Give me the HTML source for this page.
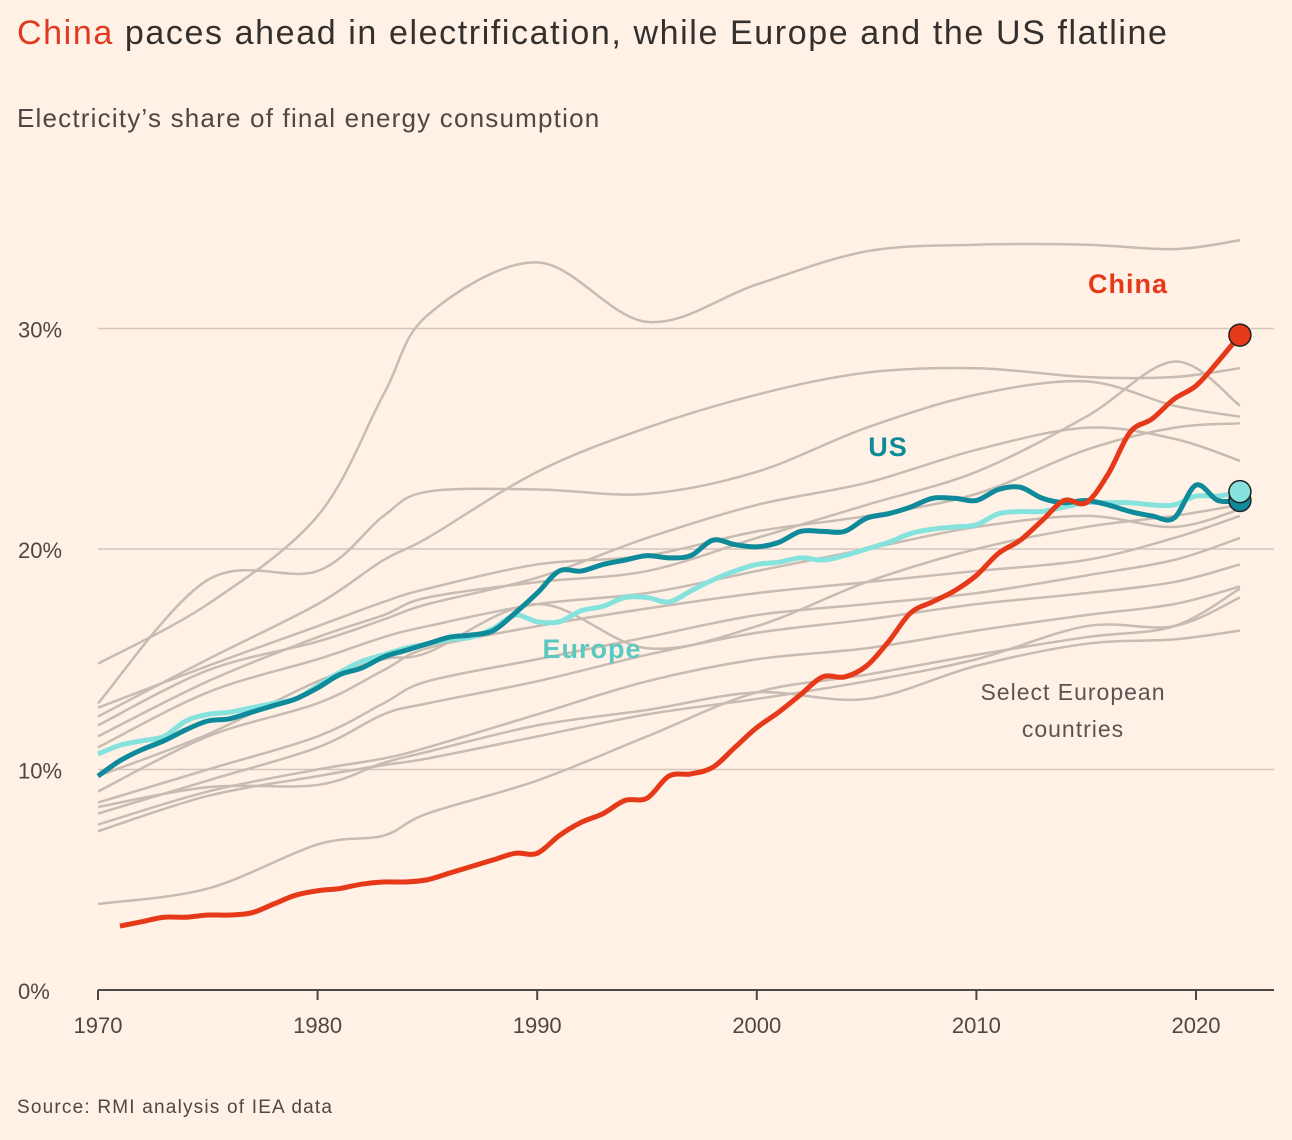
<!DOCTYPE html>
<html><head><meta charset="utf-8">
<style>
html,body{margin:0;padding:0;background:#fff1e5;}
body{width:1292px;height:1140px;position:relative;overflow:hidden;font-family:"Liberation Sans",sans-serif;}
.t{position:absolute;left:17px;top:14px;font-size:34px;color:#33302e;white-space:nowrap;letter-spacing:1.6px;}
.s{position:absolute;left:17px;top:103px;font-size:26px;color:#4d4845;letter-spacing:1.2px;}
.src{position:absolute;left:17px;top:1097px;font-size:19px;color:#4d4845;letter-spacing:1.2px;}
svg{position:absolute;left:0;top:0;}
</style></head><body>
<div class="t"><span style="color:#e03a1e">China</span> paces ahead in electrification, while Europe and the US flatline</div>
<div class="s">Electricity’s share of final energy consumption</div>
<div class="src">Source: RMI analysis of IEA data</div>
<svg id="c" width="1292" height="1140"></svg>
<script>
const xTicks=[1970,1980,1990,2000,2010,2020];
const yTicks=[0,10,20,30];
const chinaYears=[1971,1972,1973,1974,1975,1976,1977,1978,1979,1980,1981,1982,1983,1984,1985,1986,1987,1988,1989,1990,1991,1992,1993,1994,1995,1996,1997,1998,1999,2000,2001,2002,2003,2004,2005,2006,2007,2008,2009,2010,2011,2012,2013,2014,2015,2016,2017,2018,2019,2020,2021,2022];
const chinaVals=[2.9,3.1,3.3,3.3,3.4,3.4,3.5,3.9,4.3,4.5,4.6,4.8,4.9,4.9,5.0,5.3,5.6,5.9,6.2,6.2,7.0,7.6,8.0,8.6,8.7,9.7,9.8,10.1,11.0,11.9,12.6,13.4,14.2,14.2,14.7,15.8,17.1,17.6,18.1,18.8,19.8,20.4,21.3,22.2,22.1,23.4,25.3,25.9,26.8,27.4,28.5,29.7];
const usYears=[1970,1971,1972,1973,1974,1975,1976,1977,1978,1979,1980,1981,1982,1983,1984,1985,1986,1987,1988,1989,1990,1991,1992,1993,1994,1995,1996,1997,1998,1999,2000,2001,2002,2003,2004,2005,2006,2007,2008,2009,2010,2011,2012,2013,2014,2015,2016,2017,2018,2019,2020,2021,2022];
const usVals=[9.7,10.4,10.9,11.3,11.8,12.2,12.3,12.6,12.9,13.2,13.7,14.3,14.6,15.1,15.4,15.7,16.0,16.1,16.3,17.1,18.0,19.0,19.0,19.3,19.5,19.7,19.6,19.7,20.4,20.2,20.1,20.3,20.8,20.8,20.8,21.4,21.6,21.9,22.3,22.3,22.2,22.7,22.8,22.3,22.1,22.2,22.0,21.7,21.5,21.4,22.9,22.2,22.2];
const euVals=[10.7,11.1,11.3,11.5,12.2,12.5,12.6,12.8,13.0,13.2,13.8,14.4,14.9,15.2,15.5,15.7,15.9,16.0,16.4,17.0,16.7,16.7,17.2,17.4,17.8,17.8,17.6,18.1,18.6,19.0,19.3,19.4,19.6,19.5,19.7,20.0,20.3,20.7,20.9,21.0,21.1,21.6,21.7,21.7,21.9,22.1,22.1,22.1,22.0,22.0,22.4,22.4,22.6];
const greyYears=[1970,1975,1980,1983,1985,1990,1995,2000,2005,2010,2015,2019,2022];
const greySeries=[
[14.8,17.5,21.5,27,30.6,33.0,30.3,32,33.5,33.8,33.8,33.6,34.0],
[13.0,18.6,19.0,21.5,22.6,22.7,22.5,23.5,25.5,27.0,27.6,26.5,26.0],
[12.4,15,17.5,19.5,20.5,23.5,25.5,27.0,28.0,28.2,27.8,27.8,28.2],
[12.0,14.5,15.8,16.8,17.5,18.7,20.5,22.0,23.0,24.5,25.5,25.0,24.0],
[11.5,14.0,16.0,17.0,17.8,18.5,19.0,20.5,22.0,23.5,26.0,28.5,26.5],
[12.8,14.7,16.5,17.6,18.2,19.3,19.7,20.8,21.5,22.5,24.5,25.5,25.7],
[11.0,13.5,15.0,16.0,16.5,17.5,18.0,19.0,20.0,21.0,21.5,21.0,21.8],
[9.0,11.5,13.0,14.5,15.5,16.5,17.3,18.0,18.5,19.0,19.5,20.5,21.5],
[8.5,10.0,11.5,13.0,14.0,15.0,16.0,17.0,17.5,18.0,18.8,19.5,20.5],
[8.0,9.5,11.0,12.5,13.0,14.0,15.2,16.2,16.8,17.5,18.0,18.5,19.3],
[7.5,9.0,10.0,10.5,11.0,12.5,14.0,15.0,15.5,16.3,17.0,17.5,18.3],
[7.2,8.8,9.7,10.2,10.5,11.5,12.5,13.2,14.0,15.0,16.5,16.5,17.8],
[8.3,9.2,9.3,10.3,10.8,12.0,12.7,13.5,13.2,14.7,15.7,15.9,16.3],
[3.9,4.6,6.6,7.0,8.0,9.5,11.5,13.5,14.3,15.2,16.0,16.5,18.2],
[9.7,11.6,14.0,15.0,15.3,17.5,15.5,16.5,18.5,20.0,21.0,21.5,22.0]
];
const NS="http://www.w3.org/2000/svg";
const svg=document.getElementById('c');
const X=y=>98+(y-1970)*21.96;
const Y=v=>990-v*22.05;
function el(t,a){const e=document.createElementNS(NS,t);for(const k in a)e.setAttribute(k,a[k]);svg.appendChild(e);return e;}
function path(xs,vs){const p=xs.map((x,i)=>[X(x),Y(vs[i])]);let d='M'+p[0][0]+','+p[0][1];
for(let i=0;i<p.length-1;i++){const p0=p[Math.max(0,i-1)],p1=p[i],p2=p[i+1],p3=p[Math.min(p.length-1,i+2)];
const c1=[p1[0]+(p2[0]-p0[0])/6,p1[1]+(p2[1]-p0[1])/6],c2=[p2[0]-(p3[0]-p1[0])/6,p2[1]-(p3[1]-p1[1])/6];
d+=' C'+c1[0]+','+c1[1]+' '+c2[0]+','+c2[1]+' '+p2[0]+','+p2[1];}return d;}
yTicks.forEach(v=>{
 if(v>0){const g=el('line',{x1:98,x2:1274,y1:Y(v),y2:Y(v),stroke:'#d2c6bc','stroke-width':1.5});
 
 }
 const t=el('text',{x:18,y:Y(v)+9,'font-size':22,fill:'#4d4845'});t.textContent=v+'%';
 
 
});
const ax=el('line',{x1:98,x2:1274,y1:990,y2:990,stroke:'#4d4845','stroke-width':2});


xTicks.forEach(y=>{el('line',{x1:X(y),x2:X(y),y1:990,y2:1000,stroke:'#4d4845','stroke-width':2});
 const t=el('text',{x:X(y),y:1033,'font-size':22,fill:'#4d4845','text-anchor':'middle'});t.textContent=y;
 
 });
greySeries.forEach((s,i)=>{const p=el('path',{d:path(greyYears,s),fill:'none',stroke:'#c8bcb2','stroke-width':2.5});
 
 });
const eu=el('path',{d:path(usYears,euVals),fill:'none',stroke:'#86e2dc','stroke-width':5});


const us=el('path',{d:path(usYears,usVals),fill:'none',stroke:'#0e8a9a','stroke-width':5});


const cn=el('path',{d:path(chinaYears,chinaVals),fill:'none',stroke:'#e5391a','stroke-width':5});


const d1=el('circle',{cx:X(2022),cy:Y(usVals[usVals.length-1]),r:11,fill:'#0e8a9a',stroke:'#222','stroke-width':1.5});


const d2=el('circle',{cx:X(2022),cy:Y(euVals[euVals.length-1]),r:11,fill:'#86e2dc',stroke:'#222','stroke-width':1.5});


const d3=el('circle',{cx:X(2022),cy:Y(chinaVals[chinaVals.length-1]),r:11,fill:'#e5391a',stroke:'#222','stroke-width':1.5});


function lab(txt,x,y,c,n,w,b){const t=el('text',{x:x,y:y,'font-size':w||27,fill:c,'text-anchor':'middle','font-weight':b||'normal','letter-spacing':1});t.textContent=txt;
 
 }
lab('China',1128,293,'#e5391a','china-label',27,'bold');
lab('US',888,456,'#0e8a9a','us-label',27,'bold');
lab('Europe',592,658,'#5cc8c0','europe-label',27,'bold');
lab('Select European',1073,700,'#5a5552','countries-label-1',23);
lab('countries',1073,737,'#5a5552','countries-label-2',23);
</script>
</body></html>
